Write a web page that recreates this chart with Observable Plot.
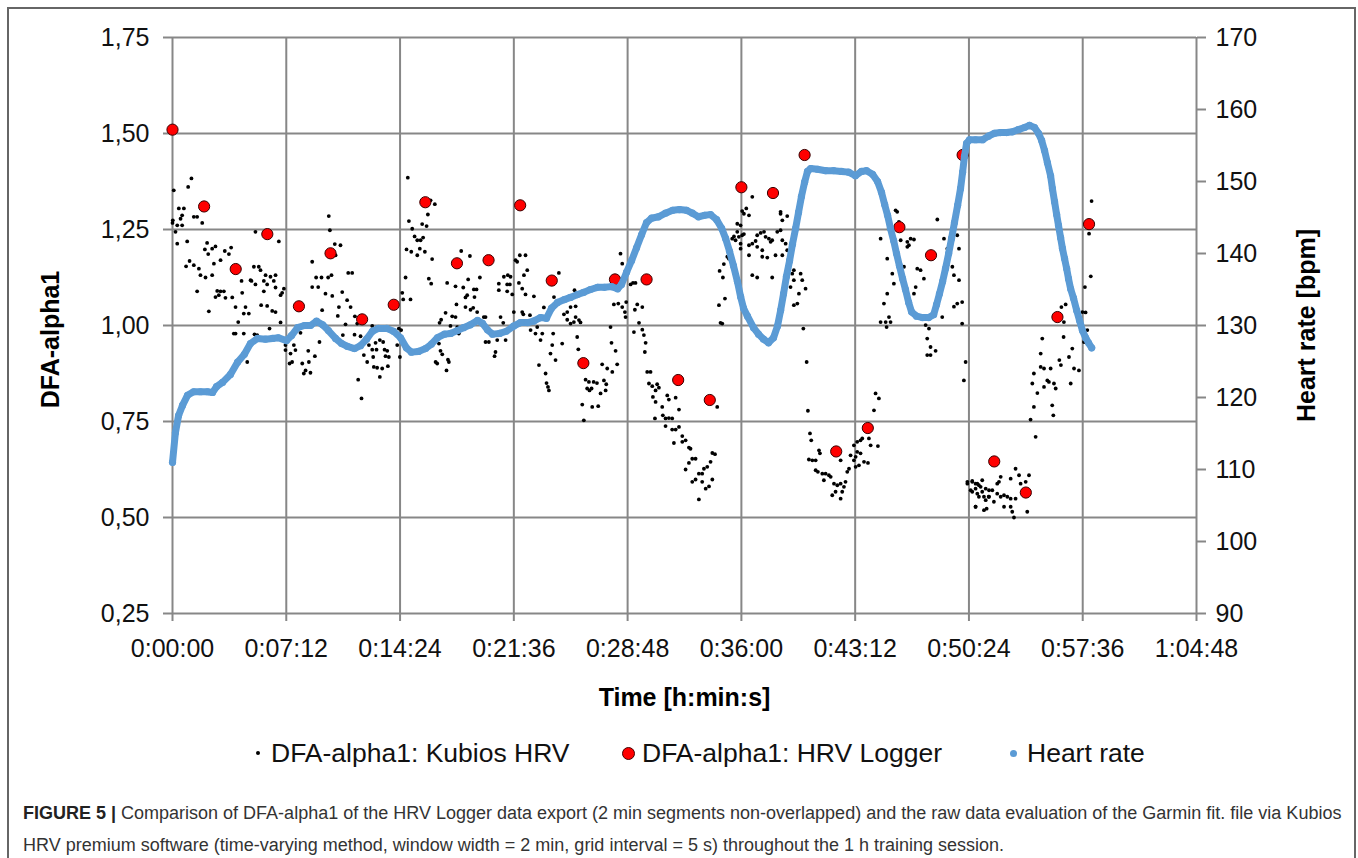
<!DOCTYPE html>
<html><head><meta charset="utf-8">
<script src="https://cdn.jsdelivr.net/npm/d3@7"></script>
<script src="https://cdn.jsdelivr.net/npm/@observablehq/plot@0.6"></script>
<style>
html,body{margin:0;padding:0;background:#fff;width:1358px;height:858px;overflow:hidden;font-family:"Liberation Sans",Arial,sans-serif;}
#frame{position:absolute;left:7px;top:7px;width:1349px;height:900px;border:2px solid #666;box-sizing:border-box;}
#chart{position:absolute;left:0;top:0;}
.leg{position:absolute;top:738px;height:30px;line-height:30px;font-size:26.5px;color:#111;white-space:nowrap;}
.sym{position:absolute;border-radius:50%;}
#caption{position:absolute;left:23px;top:797px;font-size:18px;line-height:32px;color:#333;white-space:nowrap;}
#caption b{color:#222;}
</style></head>
<body>
<div id="frame"></div>
<div id="chart"></div>
<div class="sym" style="left:256px;top:751px;width:4px;height:4px;background:#000"></div>
<div class="leg" style="left:271px">DFA-alpha1: Kubios HRV</div>
<div class="sym" style="left:622px;top:747px;width:11px;height:11px;background:#f00;border:1px solid #400"></div>
<div class="leg" style="left:642px">DFA-alpha1: HRV Logger</div>
<div class="sym" style="left:1010px;top:750px;width:7px;height:7px;background:#5b9bd5"></div>
<div class="leg" style="left:1027px">Heart rate</div>
<div id="caption"><b>FIGURE 5 |</b> Comparison of DFA-alpha1 of the HRV Logger data export (2 min segments non-overlapped) and the raw data evaluation of the Garmin fit. file via Kubios<br>HRV premium software (time-varying method, window width = 2 min, grid interval = 5 s) throughout the 1 h training session.</div>
<script>
// x ticks (minutes), y ticks
const timeTicks = [0, 7.2, 14.4, 21.6, 28.8, 36, 43.2, 50.4, 57.6, 64.8];
const dfaTicks = [0.25, 0.5, 0.75, 1.0, 1.25, 1.5, 1.75];
const hrTicks = [90, 100, 110, 120, 130, 140, 150, 160, 170];

// HRV Logger DFA-alpha1 (2 min segments): time in minutes, value
const loggerTime = [0,2,4,6,8,10,12,14,16,18,20,22,24,26,28,30,32,34,36,38,40,42,44,46,48,50,52,54,56,58];
const loggerDfa = [1.51,1.31,1.147,1.238,1.05,1.188,1.016,1.054,1.321,1.162,1.17,1.313,1.117,0.902,1.12,1.12,0.858,0.806,1.36,1.345,1.444,0.672,0.733,1.256,1.183,1.444,0.646,0.565,1.022,1.264];

// Kubios HRV DFA-alpha1: [time (min), value]
const kubiosPoints = [
[1.20,1.383],[0.99,1.361],[0.08,1.352],[0.40,1.305],[0.72,1.305],[0.61,1.287],[0.51,1.278],[0.02,1.274],[0.00,1.267],[0.30,1.261],[0.61,1.261],[0.19,1.244],[1.35,1.283],[1.56,1.283],[1.88,1.267],[0.30,1.213],[0.93,1.219],[2.19,1.215],[2.72,1.206],[2.51,1.200],[2.05,1.198],[2.26,1.186],[3.31,1.194],[3.71,1.203],[3.57,1.186],[3.04,1.170],[2.62,1.161],[0.86,1.154],[1.08,1.168],[1.35,1.157],[1.67,1.148],[1.77,1.131],[2.09,1.125],[2.51,1.131],[1.56,1.089],[2.83,1.090],[3.04,1.089],[3.25,1.089],[2.72,1.074],[2.93,1.079],[3.35,1.072],[3.78,1.073],[2.30,1.037],[3.99,1.048],[4.41,1.085],[4.62,1.048],[4.51,1.031],[4.83,1.031],[4.16,1.009],[3.88,0.979],[3.99,0.979],[4.51,0.979],[4.37,1.116],[4.94,1.118],[5.15,1.153],[5.46,1.153],[5.57,1.144],[5.89,1.131],[5.78,1.116],[5.25,1.107],[5.00,1.116],[6.20,1.127],[6.52,1.131],[6.41,1.116],[6.52,1.099],[5.99,1.107],[5.78,1.089],[7.05,1.096],[6.84,1.079],[6.94,1.085],[5.61,1.053],[5.99,1.051],[6.31,1.038],[6.52,1.035],[5.19,0.977],[5.36,0.975],[6.14,0.992],[6.84,1.008],[6.73,1.219],[5.25,1.244],[4.73,0.905],[7.15,0.949],[7.15,0.936],[7.47,0.927],[7.68,0.949],[7.78,0.936],[7.57,0.905],[7.41,0.901],[8.21,0.901],[8.42,0.883],[8.31,0.875],[8.73,0.877],[8.63,0.905],[8.59,0.934],[9.01,0.920],[9.30,0.957],[8.10,0.981],[8.84,1.166],[9.09,1.125],[8.84,1.100],[9.22,1.100],[9.43,1.125],[9.85,1.125],[10.06,1.131],[9.68,1.083],[10.11,1.077],[9.47,1.040],[9.89,1.285],[9.96,1.248],[10.27,1.212],[10.63,1.209],[9.89,1.183],[10.32,1.183],[11.12,1.137],[11.37,1.137],[10.74,1.087],[11.05,1.066],[11.27,1.048],[10.53,1.048],[10.46,1.025],[10.95,1.003],[10.78,0.975],[11.52,0.976],[11.90,0.972],[11.54,1.024],[11.69,1.005],[12.22,0.959],[12.43,0.949],[12.11,0.923],[12.32,0.905],[12.64,0.937],[12.74,0.892],[11.75,0.859],[11.96,0.810],
[12.64,0.999],[12.85,0.955],[13.12,0.962],[13.33,0.957],[12.91,0.937],[13.42,0.937],[13.59,0.934],[13.48,0.920],[13.69,0.918],[12.70,0.918],[12.95,0.890],[13.27,0.888],[13.63,0.894],[13.12,0.866],[14.22,0.949],[14.39,0.918],[14.47,0.988],[14.32,0.992],[14.89,1.385],[16.33,1.326],[16.60,1.316],[16.16,1.289],[15.80,1.264],[16.08,1.259],[14.96,1.272],[15.17,1.252],[15.32,1.232],[15.49,1.222],[15.70,1.222],[15.86,1.229],[14.81,1.198],[15.11,1.192],[15.49,1.183],[15.65,1.200],[15.97,1.192],[16.43,1.173],[14.75,1.125],[16.22,1.122],[16.37,1.109],[14.54,1.085],[15.06,1.068],[14.60,1.068],[18.27,1.194],[18.82,1.181],[17.38,1.111],[17.91,1.102],[18.71,1.120],[19.45,1.125],[18.40,1.099],[18.65,1.079],[18.54,1.073],[19.07,1.094],[19.24,1.094],[19.11,1.074],[17.97,1.055],[18.54,1.048],[18.86,1.041],[19.03,1.046],[19.28,1.035],[19.70,1.022],[19.81,1.022],[17.91,1.022],[17.70,1.024],[17.28,1.033],[17.00,1.015],[16.90,1.007],[17.59,0.999],[18.02,0.996],[18.12,0.979],[16.86,0.953],[16.96,0.934],[17.07,0.925],[17.43,0.911],[17.49,0.905],[16.75,0.901],[16.65,0.905],[17.34,0.883],[19.81,0.957],[20.02,0.957],[20.55,0.962],[21.08,0.962],[20.44,0.931],[20.38,0.920],[20.76,1.022],[20.93,1.007],[20.65,1.109],[20.97,1.127],[21.22,1.131],[21.39,1.127],[21.18,1.107],[21.35,1.107],[20.65,1.092],[21.18,1.089],[21.50,1.081],[21.71,1.170],[21.81,1.166],[21.98,1.183],[22.34,1.183],[22.24,1.131],[22.45,1.144],[21.92,1.111],[22.13,1.096],[22.34,1.081],[22.87,1.076],[21.60,1.035],[22.13,1.035],[22.20,1.029],[22.62,1.027],[23.50,1.047],[24.03,1.050],[24.14,1.074],[24.45,1.137],[22.45,1.005],[23.08,0.996],[22.66,0.988],[22.97,0.979],[23.40,0.979],[24.09,0.979],[24.03,0.949],[24.66,0.953],[23.29,0.962],[23.19,0.897],[23.92,0.927],[24.24,0.910],[23.61,0.875],[23.67,0.850],[23.76,0.840],[23.82,0.831],[24.77,1.029],[24.98,1.035],[25.19,1.048],[25.44,1.092],[24.98,1.015],[25.19,1.005],[25.51,1.022],[25.40,1.009],[25.72,1.014],
[25.51,1.050],[25.82,1.008],[25.61,0.970],[25.68,0.938],[26.14,0.859],[26.35,0.853],[26.65,0.853],[26.86,0.850],[26.24,0.836],[26.39,0.831],[26.52,0.836],[27.19,0.899],[27.51,0.888],[27.30,0.857],[27.45,0.847],[27.09,0.823],[27.41,0.831],[25.93,0.794],[26.56,0.788],[26.94,0.790],[26.03,0.753],[27.72,0.996],[27.78,0.955],[28.04,0.934],[28.14,0.899],[27.83,0.879],[28.35,1.187],[28.46,1.161],[27.93,1.055],[28.21,1.057],[28.46,1.048],[28.63,1.035],[28.67,1.022],[28.71,1.061],[28.99,1.107],[29.14,1.111],[29.30,1.111],[29.41,1.055],[29.73,1.048],[29.26,1.041],[29.52,1.007],[29.20,0.983],[29.73,0.989],[29.83,0.975],[29.94,0.955],[29.89,0.931],[30.04,0.879],[30.25,0.879],[30.15,0.849],[30.36,0.842],[30.67,0.847],[30.78,0.838],[30.57,0.831],[30.40,0.814],[30.57,0.801],[30.99,0.788],[30.53,0.758],[31.03,0.766],[31.31,0.818],[31.41,0.807],[31.84,0.812],[32.05,0.781],[31.20,0.758],[31.41,0.759],[31.62,0.758],[31.20,0.738],[31.62,0.729],[31.84,0.729],[32.05,0.736],[32.26,0.712],[32.47,0.701],[32.26,0.697],[31.73,0.694],[32.68,0.682],[32.78,0.679],[32.47,0.625],[32.68,0.642],[32.89,0.653],[33.10,0.653],[32.89,0.593],[33.10,0.599],[33.31,0.614],[33.52,0.614],[33.52,0.593],[33.63,0.627],[33.84,0.632],[33.95,0.581],[33.74,0.575],[34.16,0.599],[34.05,0.645],[34.16,0.668],[34.33,0.665],[33.31,0.547],[34.47,0.788],[34.58,1.053],[34.68,1.007],[34.79,1.005],[34.96,1.070],[34.83,1.125],[34.62,1.142],[34.89,1.160],[35.11,1.179],[35.21,1.174],[35.42,1.226],[35.53,1.232],[35.74,1.244],[35.84,1.231],[35.63,1.222],[36.05,1.298],[36.31,1.305],[36.16,1.291],[36.48,1.287],[36.69,1.335],[35.74,1.265],[35.95,1.261],[36.05,1.235],[35.95,1.213],[35.95,1.200],[36.16,1.238],[36.69,1.213],[36.90,1.220],[37.00,1.235],[37.22,1.241],[37.43,1.244],[37.53,1.231],[37.74,1.226],[37.85,1.218],[37.95,1.222],[36.48,1.209],[37.00,1.205],[36.48,1.183],[37.32,1.196],[37.64,1.177],[38.16,1.183],[38.27,1.244],[38.48,1.248],[38.48,1.291],[36.69,1.131],[37.00,1.125],[37.95,1.125],[37.32,1.179],
[38.48,1.296],[38.59,1.274],[38.90,1.285],[38.59,1.222],[38.80,1.213],[38.90,1.196],[38.59,1.183],[38.90,1.153],[39.32,1.144],[39.22,1.135],[39.32,1.118],[39.75,1.135],[39.85,1.118],[40.06,1.096],[39.64,1.083],[39.54,1.057],[39.32,1.053],[39.11,1.100],[39.92,0.992],[40.13,0.905],[40.21,0.778],[40.34,0.719],[40.42,0.701],[40.27,0.651],[40.49,0.649],[40.70,0.649],[40.91,0.675],[40.97,0.667],[40.70,0.623],[40.84,0.619],[41.12,0.614],[41.33,0.614],[41.22,0.597],[41.54,0.610],[41.65,0.606],[41.86,0.588],[42.07,0.584],[42.28,0.588],[42.49,0.580],[41.96,0.567],[42.38,0.567],[41.75,0.558],[42.28,0.549],[42.59,0.593],[42.28,0.649],[42.70,0.619],[42.81,0.627],[42.91,0.662],[43.12,0.688],[43.33,0.697],[43.54,0.701],[43.65,0.706],[43.23,0.658],[43.33,0.671],[43.54,0.667],[43.76,0.645],[44.01,0.642],[43.23,0.632],[43.44,0.636],[43.12,0.649],[44.07,0.706],[44.18,0.688],[44.64,0.686],[44.39,0.779],[44.49,0.823],[44.70,0.810],[44.81,1.226],[45.23,1.174],[45.02,1.057],[45.23,1.083],[44.81,1.009],[45.13,1.009],[45.19,0.996],[45.44,1.009],[45.34,1.022],[45.55,1.135],[45.65,1.109],[45.76,1.300],[45.86,1.296],[45.97,1.270],[46.08,1.222],[46.29,1.153],[46.50,1.218],[46.60,1.209],[46.71,1.226],[46.92,1.224],[46.50,1.205],[47.13,1.148],[47.34,1.144],[47.55,1.122],[47.03,1.100],[46.92,1.083],[48.40,1.276],[48.82,1.226],[49.03,1.200],[49.66,1.235],[49.77,1.200],[49.45,1.131],[49.35,1.153],[49.77,1.118],[49.45,1.049],[49.66,1.057],[49.97,1.061],[49.97,1.005],[50.19,0.905],[50.08,0.857],[49.97,1.361],[47.66,1.001],[47.87,0.992],[47.76,0.966],[47.97,0.944],[48.29,0.934],[47.76,0.923],[47.97,0.923],[48.71,1.022],[49.03,1.157],[48.61,1.087],
[50.30,0.588],[50.61,0.593],[50.93,0.588],[51.14,0.580],[50.82,0.575],[51.24,0.567],[50.61,0.567],[51.03,0.554],[51.46,0.545],[50.82,0.528],[51.35,0.519],[51.65,0.554],
[50.30,0.593],[50.61,0.595],[50.82,0.588],[51.03,0.584],[51.24,0.597],[50.51,0.571],[50.93,0.562],[51.46,0.575],[51.67,0.571],[51.88,0.571],[51.35,0.554],[51.67,0.554],[51.98,0.541],[52.41,0.606],[52.30,0.593],[52.19,0.588],[52.62,0.558],[52.83,0.554],[53.04,0.601],[53.35,0.627],[53.57,0.610],[53.99,0.593],[53.67,0.588],[53.35,0.549],[53.04,0.549],[52.62,0.528],[53.04,0.528],[53.14,0.515],[53.25,0.500],[54.20,0.610],[54.09,0.515],[50.82,0.528],[51.52,0.523],[52.19,0.562],[52.41,0.554],[54.62,0.710],[54.30,0.755],[54.51,0.788],[54.73,0.824],[54.41,0.849],[54.51,0.875],[54.94,0.892],[55.15,0.888],[55.57,0.888],[55.36,0.857],[55.15,0.840],[55.46,0.853],[55.78,0.849],[55.89,0.836],[55.67,0.792],[55.74,0.766],[54.94,0.927],[55.04,0.966],[56.39,0.970],[56.12,0.910],[56.22,0.897],[56.73,0.918],[56.94,0.940],[56.84,0.849],[57.05,0.888],[57.36,0.883],[56.25,1.048],[56.52,1.055],[56.41,1.009],[57.58,1.035],[57.78,1.034],[57.89,0.988],[57.68,0.957],[58.00,1.239],[58.11,1.128],[57.74,1.100],[58.16,1.324]
];

// Heart rate: [time (s), bpm]
const heartRate = [
[0,111.0],[11,115.1],[23,117.5],[38,118.9],[57,120.3],[80,120.8],[106,120.8],[133,120.8],[152,120.7],[167,121.5],[190,122.1],[220,123.2],[247,124.9],[273,126.0],[296,127.5],[323,128.2],[353,128.1],[380,128.2],[402,128.3],[433,127.9],[452,128.6],[475,129.7],[501,130.0],[524,130.0],[547,130.6],[570,130.1],[592,129.3],[619,128.2],[642,127.5],[664,127.1],[691,126.8],[714,127.2],[737,128.1],[759,129.2],[782,129.6],[813,129.6],[839,129.2],[866,128.3],[888,126.9],[907,126.3],[934,126.4],[961,126.8],[983,127.4],[1006,128.3],[1033,128.8],[1056,128.9],[1082,129.3],[1105,129.7],[1131,130.1],[1158,130.7],[1177,130.3],[1196,129.4],[1215,128.8],[1242,128.9],[1268,129.2],[1295,129.9],[1321,130.4],[1348,130.4],[1371,130.6],[1397,131.1],[1420,131.0],[1439,132.4],[1462,133.2],[1488,133.6],[1511,133.9],[1538,134.3],[1561,134.6],[1587,135.0],[1614,135.3],[1640,135.3],[1667,135.4],[1690,135.1],[1705,135.7],[1724,137.4],[1743,139.0],[1762,140.8],[1781,142.6],[1800,144.3],[1819,144.9],[1845,145.1],[1872,145.6],[1899,146.0],[1925,146.1],[1952,146.0],[1974,145.6],[1997,145.1],[2020,145.3],[2043,145.4],[2066,144.7],[2085,143.5],[2100,142.1],[2115,140.3],[2130,138.3],[2145,136.1],[2157,134.0],[2168,132.4],[2183,131.3],[2206,129.7],[2225,128.8],[2244,128.1],[2263,127.6],[2282,128.3],[2297,129.9],[2309,132.1],[2320,134.4],[2331,136.8],[2343,139.0],[2354,141.3],[2366,143.5],[2377,145.7],[2388,147.9],[2400,149.9],[2411,151.4],[2423,151.8],[2449,151.7],[2480,151.5],[2510,151.5],[2540,151.4],[2567,151.3],[2593,150.8],[2616,151.4],[2635,151.5],[2658,151.0],[2677,150.0],[2692,148.5],[2704,146.8],[2715,145.3],[2726,143.5],[2738,141.8],[2749,140.0],[2760,138.3],[2772,136.5],[2783,135.0],[2795,133.2],[2806,131.9],[2825,131.3],[2848,131.1],[2871,131.1],[2890,131.5],[2901,132.9],[2912,134.4],[2924,136.1],[2935,137.9],[2947,140.0],[2958,142.1],[2969,144.3],[2981,146.7],[2992,149.0],[3000,151.3],[3007,153.5],[3015,155.3],[3026,155.8],[3049,155.8],[3076,155.8],[3098,156.3],[3121,156.7],[3144,156.8],[3167,156.8],[3189,156.9],[3212,157.2],[3235,157.5],[3254,157.8],[3273,157.5],[3288,156.7],[3300,155.7],[3311,154.3],[3322,152.6],[3334,150.8],[3341,149.0],[3349,147.2],[3357,145.4],[3364,143.9],[3372,142.2],[3379,140.7],[3387,139.3],[3395,137.9],[3402,136.5],[3410,135.1],[3421,133.8],[3433,132.1],[3444,130.7],[3455,129.3],[3467,128.3],[3478,127.6],[3490,126.9]
];

// secondary axis mapping (HR 90–170 onto DFA 0.25–1.75)
const toDfa = hr => 0.25 + (hr - 90) * 1.5 / 80;
const fromDfa = d => 90 + (d - 0.25) * 80 / 1.5;
const fmtTime = m => {
  const s = Math.round(m * 60);
  const h = Math.floor(s / 3600), mm = Math.floor((s % 3600) / 60), ss = s % 60;
  return `${h}:${String(mm).padStart(2, "0")}:${String(ss).padStart(2, "0")}`;
};
const fmtComma = d => d.toFixed(2).replace(".", ",");

const logger = loggerTime.map((t, i) => ({t, v: loggerDfa[i]}));
const hr = heartRate.map(([s, b]) => ({t: s / 60, v: toDfa(b)}));
const kub = kubiosPoints.map(([t, v]) => ({t, v}));

const gridColor = "#878787";
const chart = Plot.plot({
  width: 1358, height: 720,
  marginLeft: 172, marginRight: 162, marginTop: 37, marginBottom: 107,
  style: {fontFamily: "'Liberation Sans', Arial, sans-serif", fontSize: "25px", color: "#111", background: "transparent", overflow: "visible"},
  x: {domain: [0, 64.8]},
  y: {domain: [0.25, 1.75]},
  marks: [
    Plot.gridX(timeTicks, {stroke: gridColor, strokeOpacity: 1, strokeWidth: 2}),
    Plot.gridY(dfaTicks, {stroke: gridColor, strokeOpacity: 1, strokeWidth: 2}),
    Plot.axisX(timeTicks, {tickFormat: fmtTime, tickSize: 8, tickPadding: 18, stroke: gridColor, strokeWidth: 2, label: null, fontSize: 25}),
    Plot.axisY(dfaTicks, {anchor: "left", tickFormat: fmtComma, tickSize: 9, tickPadding: 14, stroke: gridColor, strokeWidth: 2, label: null, fontSize: 25}),
    Plot.axisY(hrTicks.map(toDfa), {anchor: "right", tickFormat: d => String(Math.round(fromDfa(d))), tickSize: 9, tickPadding: 10, stroke: gridColor, strokeWidth: 2, label: null, fontSize: 25}),
    Plot.dot(kub, {x: "t", y: "v", r: 1.9, fill: "#000", stroke: "none"}),
    Plot.dot(logger, {x: "t", y: "v", r: 5.6, fill: "#ff0000", stroke: "#3a0000", strokeWidth: 1}),
    Plot.line(hr, {x: "t", y: "v", stroke: "#5b9bd5", strokeWidth: 7, strokeLinejoin: "round", strokeLinecap: "round"}),
    Plot.dot(hr, {x: "t", y: "v", r: 3.6, fill: "#5b9bd5", stroke: "none"}),
    Plot.text(["Time [h:min:s]"], {frameAnchor: "bottom", dy: 84, textAnchor: "middle", lineAnchor: "middle", fontWeight: "bold", fontSize: 25, fill: "#000"}),
    Plot.text(["DFA-alpha1"], {frameAnchor: "left", dx: -122, dy: 14, rotate: -90, textAnchor: "middle", lineAnchor: "middle", fontWeight: "bold", fontSize: 25, fill: "#000"}),
    Plot.text(["Heart rate [bpm]"], {frameAnchor: "right", dx: 110, rotate: -90, textAnchor: "middle", lineAnchor: "middle", fontWeight: "bold", fontSize: 25, fill: "#000"})
  ]
});
document.getElementById("chart").appendChild(chart);
</script>
</body></html>
